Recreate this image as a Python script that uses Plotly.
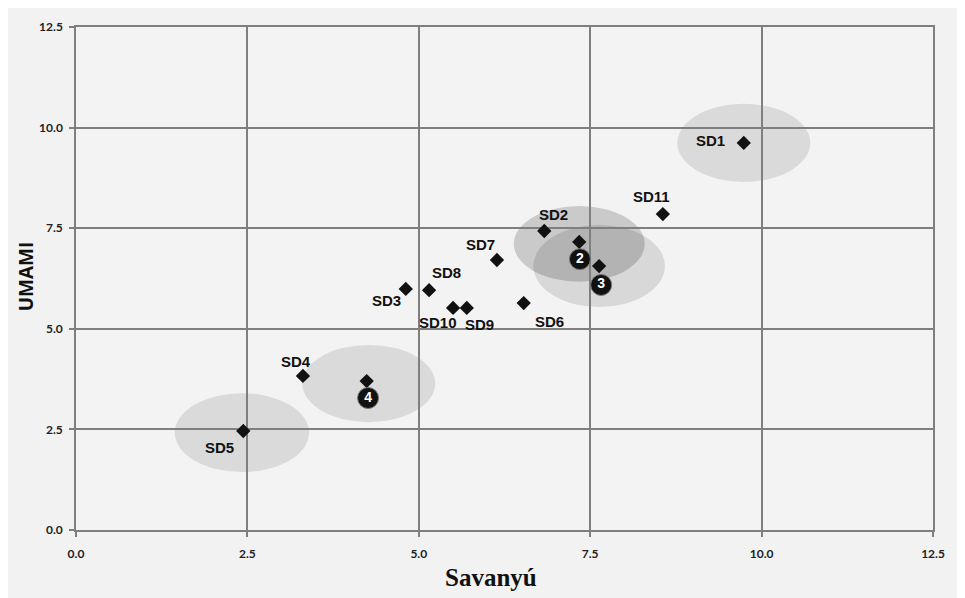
import plotly.graph_objects as go

# Sample points
labels = ["SD1", "SD11", "SD2", "SD7", "SD8", "SD3", "SD10", "SD9", "SD6", "SD4", "SD5"]
sav = [9.74, 8.56, 6.83, 6.14, 5.15, 4.81, 5.50, 5.70, 6.53, 3.31, 2.44]
umami = [9.62, 7.85, 7.43, 6.71, 5.96, 5.99, 5.52, 5.52, 5.64, 3.83, 2.46]
# label offsets in px (dx, dy up)
lab_dx = [-33, -11, 9, -16, 17, -19, -15, 13, 26, -7, -24]
lab_dy = [2, 18, 17, 15, 18, -12, -15, -17, -18, 14, -16]

# Group centroid points (unlabelled)
cent_x = [7.34, 7.63, 4.24]
cent_y = [7.16, 6.56, 3.70]

# Group badges
badge_txt = ["2", "3", "4"]
badge_x = [7.35, 7.66, 4.26]
badge_y = [6.73, 6.09, 3.28]

# Ellipses (center x, center y, radius x, radius y, opacity)
ell_cx = [9.74, 7.63, 7.34, 4.27, 2.42]
ell_cy = [9.62, 6.56, 7.11, 3.64, 2.42]
ell_rx = [0.97, 0.96, 0.955, 0.97, 0.98]
ell_ry = [0.97, 1.02, 0.94, 0.96, 0.98]
ell_alpha = [0.10, 0.11, 0.17, 0.10, 0.10]

ticks = [0.0, 2.5, 5.0, 7.5, 10.0, 12.5]
tick_text = ["0.0", "2.5", "5.0", "7.5", "10.0", "12.5"]

fig = go.Figure()

shapes = []
for cx, cy, rx, ry, a in zip(ell_cx, ell_cy, ell_rx, ell_ry, ell_alpha):
    shapes.append(dict(type="circle", xref="x", yref="y", x0=cx - rx, x1=cx + rx,
                       y0=cy - ry, y1=cy + ry, fillcolor=f"rgba(0,0,0,{a})",
                       line=dict(width=0), layer="below"))

fig.add_trace(go.Scatter(x=sav + cent_x, y=umami + cent_y, mode="markers",
                         marker=dict(symbol="diamond", size=11, color="#111111"),
                         hoverinfo="skip", showlegend=False))

fig.add_trace(go.Scatter(x=badge_x, y=badge_y, mode="markers+text", text=badge_txt,
                         textposition="middle center",
                         textfont=dict(family="Arial", size=14, color="white", weight="bold"),
                         marker=dict(size=21, color="#111111", line=dict(color="#777777", width=1)),
                         hoverinfo="skip", showlegend=False))

annotations = []
for t, x, y, dx, dy in zip(labels, sav, umami, lab_dx, lab_dy):
    annotations.append(dict(x=x, y=y, xref="x", yref="y", text=t, showarrow=False,
                            xshift=dx, yshift=dy,
                            font=dict(family="Arial", size=15, color="#111111", weight="bold")))

annotations.append(dict(x=0.484, y=-0.094, xref="paper", yref="paper", text="Savanyú",
                        showarrow=False, xanchor="center", yanchor="middle",
                        font=dict(family="Liberation Serif", size=25, color="#111111", weight="bold")))
annotations.append(dict(x=-0.058, y=0.505, xref="paper", yref="paper", text="UMAMI",
                        showarrow=False, textangle=-90, xanchor="center", yanchor="middle",
                        font=dict(family="Open Sans", size=19, color="#111111", weight="bold")))

axis_common = dict(range=[0, 12.5], tickvals=ticks, ticktext=tick_text,
                   showgrid=True, gridcolor="#7f7f7f", gridwidth=1.5,
                   showline=True, linecolor="#7f7f7f", linewidth=1.5, mirror=True,
                   ticks="outside", ticklen=5, tickcolor="#7f7f7f", tickwidth=1.5,
                   zeroline=False, fixedrange=True,
                   tickfont=dict(family="Lato", size=12, color="#222222", weight="bold"))

fig.update_layout(
    width=957, height=590,
    margin=dict(l=68, r=32, t=19, b=68),
    paper_bgcolor="#f2f2f2", plot_bgcolor="#f3f3f3",
    shapes=shapes, annotations=annotations,
    xaxis=dict(**axis_common, ticklabelstandoff=7),
    yaxis=dict(**axis_common, ticklabelstandoff=4),
    showlegend=False,
)

fig.write_html("out.html")
